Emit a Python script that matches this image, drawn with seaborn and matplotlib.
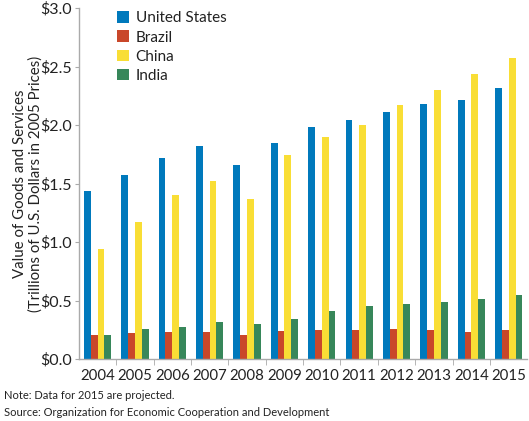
import pandas as pd
import matplotlib.pyplot as plt
import seaborn as sns

# GDP values (trillions of 2005 US dollars)
years = ['2004', '2005', '2006', '2007', '2008', '2009', '2010', '2011', '2012', '2013', '2014', '2015']
countries = ['United States', 'Brazil', 'China', 'India']
united_states = [1.44, 1.57, 1.72, 1.82, 1.66, 1.85, 1.98, 2.04, 2.11, 2.18, 2.21, 2.32]
brazil = [0.21, 0.22, 0.23, 0.23, 0.21, 0.24, 0.245, 0.245, 0.255, 0.25, 0.235, 0.245]
china = [0.94, 1.17, 1.40, 1.52, 1.37, 1.745, 1.90, 2.00, 2.17, 2.30, 2.44, 2.57]
india = [0.205, 0.255, 0.275, 0.315, 0.30, 0.34, 0.41, 0.45, 0.47, 0.49, 0.515, 0.55]
colors = ['#0079BC', '#C9472A', '#F9DE35', '#37875A']

df = pd.DataFrame({'Year': years, 'United States': united_states, 'Brazil': brazil,
                   'China': china, 'India': india})
long = df.melt(id_vars='Year', value_vars=countries, var_name='Country', value_name='Value')

sns.set_style('white')
plt.rcParams['font.family'] = ['Lato', 'DejaVu Sans']

fig, ax = plt.subplots(figsize=(5.29, 4.21), dpi=100)
fig.subplots_adjust(left=0.149, right=0.997, top=0.981, bottom=0.147)

sns.barplot(data=long, x='Year', y='Value', hue='Country', hue_order=countries,
            palette=colors, width=0.73, saturation=1, ax=ax, edgecolor='none')

ax.set_ylim(0, 3.0)
ax.set_xlim(-0.5, len(years) - 0.5)
ax.set_yticks([0, 0.5, 1.0, 1.5, 2.0, 2.5, 3.0])
ax.set_yticklabels(['$0.0', '$0.5', '$1.0', '$1.5', '$2.0', '$2.5', '$3.0'])
ax.set_xticks(range(len(years)))
ax.set_xticklabels(years)
ax.set_xticks([i + 0.5 for i in range(len(years) - 1)], minor=True)
ax.tick_params(axis='x', which='major', length=0, labelsize=10.8, pad=7, colors='#222222')
ax.tick_params(axis='x', which='minor', length=4, color='#AAAAAA', bottom=True)
ax.tick_params(axis='y', length=3, color='#AAAAAA', labelsize=11.5, pad=2, colors='#222222', left=True)

ax.set_xlabel('')
ax.set_ylabel('Value of Goods and Services\n(Trillions of U.S. Dollars in 2005 Prices)',
              fontsize=10.8, color='#222222', labelpad=-2, linespacing=1.15)

for side in ['top', 'right']:
    ax.spines[side].set_visible(False)
for side in ['left', 'bottom']:
    ax.spines[side].set_color('#AAAAAA')
    ax.spines[side].set_linewidth(1.0)

leg = ax.legend(loc='upper left', bbox_to_anchor=(0.055, 1.03), frameon=False, fontsize=11,
                handlelength=0.8, handleheight=0.8, handletextpad=0.4, labelspacing=0.33)
for t in leg.get_texts():
    t.set_color('#222222')

fig.text(0.008, 0.052, 'Note: Data for 2015 are projected.', fontsize=8, color='#222222')
fig.text(0.008, 0.013, 'Source: Organization for Economic Cooperation and Development',
         fontsize=8, color='#222222')

fig.savefig('out.png', dpi=100)
